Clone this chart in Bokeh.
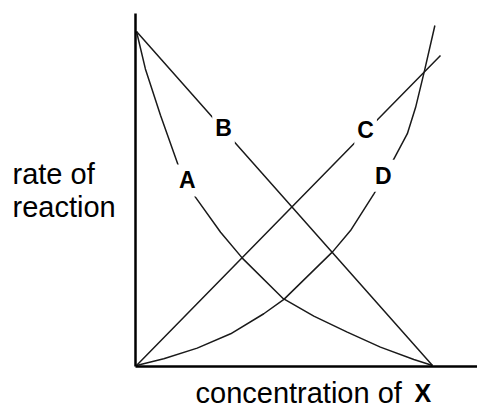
from bokeh.plotting import figure
from bokeh.models import ColumnDataSource, Range1d, Label, FixedTicker
from bokeh.core.properties import value
from bokeh.embed import file_html
from bokeh.resources import INLINE

# ---- data (concentration of X vs rate of reaction, 0..100 units) ----
conc_A = [0, 3.0, 8.1, 14.3, 17.2, 19.9, 28.4, 35.9, 49.6, 59.9, 71.2, 82.4, 93.7, 100]
rate_A = [100, 88.8, 74.9, 59.4, 54.8, 50.4, 39.9, 32.0, 20.0, 14.8, 10.0, 5.5, 1.8, 0]

conc_B = [0, 29.4, 100]
rate_B = [100, 70.6, 0]

conc_C = [0, 77.4, 102.7]
rate_C = [0, 70.0, 92.8]

conc_D = [0, 9.2, 20.5, 31.8, 43.0, 49.8, 66.3, 72.3, 80.2, 83.4, 85.8, 91.5, 94.3, 97.3, 100.8]
rate_D = [0, 2.0, 5.2, 9.5, 15.5, 19.8, 34.1, 40.4, 51.4, 56.2, 59.9, 69.4, 77.3, 88.3, 101.8]

curve_names = ["A", "B", "C", "D"]
label_index = [4, 1, 1, 9]   # point of each series where its letter sits

y_title_lines = ["rate of", "reaction"]
x_title = "concentration of "
x_title_bold = "X"

FONT = "Liberation Sans"
INK = "#1a1a1a"

p = figure(width=477, height=407, output_backend="svg", toolbar_location=None,
           x_range=Range1d(-45.95, 115.2), y_range=Range1d(-12.57, 109.28),
           min_border_left=0, min_border_right=0, min_border_top=0, min_border_bottom=0,
           background_fill_color="white", border_fill_color="white")
p.outline_line_color = None
p.xgrid.visible = False
p.ygrid.visible = False

xa, ya = p.xaxis[0], p.yaxis[0]
ya.fixed_location = -0.34
ya.bounds = (-0.3, 105.4)
xa.fixed_location = -0.3
xa.bounds = (-0.34, 115.2)
for ax in (xa, ya):
    ax.ticker = FixedTicker(ticks=[])
    ax.major_tick_line_color = None
    ax.minor_tick_line_color = None
    ax.major_label_text_color = None
    ax.axis_line_color = "black"
    ax.axis_line_width = 2.5

series = {"A": (conc_A, rate_A), "B": (conc_B, rate_B),
          "C": (conc_C, rate_C), "D": (conc_D, rate_D)}
for name in curve_names:
    xs, ys = series[name]
    p.line(xs, ys, line_color=INK, line_width=1.5)

lab_x = [series[n][0][i] for n, i in zip(curve_names, label_index)]
lab_y = [series[n][1][i] for n, i in zip(curve_names, label_index)]
src = ColumnDataSource(dict(x=lab_x, y=lab_y, t=curve_names))
p.text(x="x", y="y", text="t", source=src, text_font=value(FONT), text_font_style="bold",
       text_font_size="23px", text_color="black", text_align="center", text_baseline="middle",
       y_offset=-2, background_fill_color="white", padding=3)

for line_text, yy in zip(y_title_lines, [234, 201]):
    p.add_layout(Label(x=12, y=yy, x_units="screen", y_units="screen", text=line_text,
                       text_font=FONT, text_font_size="29px", text_color="black",
                       text_align="left", text_baseline="alphabetic"))

p.add_layout(Label(x=195, y=15, x_units="screen", y_units="screen", text=x_title,
                   text_font=FONT, text_font_size="29px", text_color="black",
                   text_align="left", text_baseline="alphabetic"))
p.add_layout(Label(x=414, y=15, x_units="screen", y_units="screen", text=x_title_bold,
                   text_font=FONT, text_font_size="25px", text_font_style="bold",
                   text_color="black", text_align="left", text_baseline="alphabetic"))

open("out.html", "w").write(file_html(p, INLINE))
